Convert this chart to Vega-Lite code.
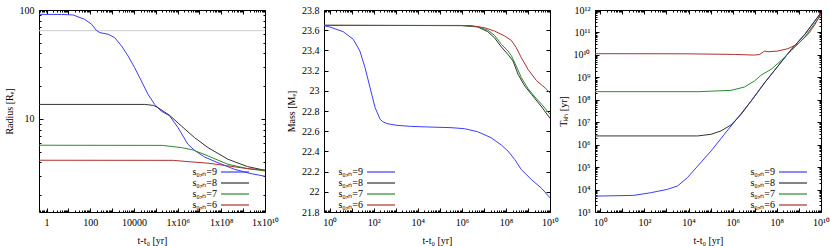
{
  "$schema": "https://vega.github.io/schema/vega-lite/v6.json",
  "padding": {"left": 3, "top": 4, "right": 0, "bottom": 0},
  "config": {
    "font": "Liberation Serif",
    "view": {"stroke": "#000000", "strokeWidth": 1},
    "axis": {
      "grid": false, "domain": false,
      "labelFont": "Liberation Serif", "labelFontSize": 10, "labelColor": "#000000",
      "titleFont": "Liberation Serif", "titleFontSize": 10, "titleFontWeight": "normal", "titleColor": "#000000",
      "tickColor": "#000000", "tickWidth": 1, "labelPadding": 9, "titlePadding": 5,
      "labelFlush": false, "labelOverlap": false, "labelBound": false
    },
    "legend": {
      "symbolType": "M-2.8,0H2.8", "symbolSize": 100, "symbolStrokeWidth": 1.2,
      "labelFont": "Liberation Serif", "labelFontSize": 10, "labelColor": "#000000",
      "labelAlign": "right", "labelOffset": -24, "rowPadding": 0, "padding": 0,
      "labelLimit": 0, "direction": "vertical"
    }
  },
  "datasets": {
    "hline": [{"R": 64.6}],
    "radius": [
      {"s": "s₀,ₙ=9", "t": 0.45, "R": 91.2}, {"s": "s₀,ₙ=9", "t": 5, "R": 91}, {"s": "s₀,ₙ=9", "t": 16.6, "R": 90},
      {"s": "s₀,ₙ=9", "t": 56, "R": 82}, {"s": "s₀,ₙ=9", "t": 115, "R": 74}, {"s": "s₀,ₙ=9", "t": 190, "R": 65},
      {"s": "s₀,ₙ=9", "t": 275, "R": 62}, {"s": "s₀,ₙ=9", "t": 660, "R": 59.9}, {"s": "s₀,ₙ=9", "t": 1320, "R": 55.7},
      {"s": "s₀,ₙ=9", "t": 2700, "R": 46.8}, {"s": "s₀,ₙ=9", "t": 5400, "R": 37.8}, {"s": "s₀,ₙ=9", "t": 10700, "R": 29.6},
      {"s": "s₀,ₙ=9", "t": 21900, "R": 22.3}, {"s": "s₀,ₙ=9", "t": 43600, "R": 16.9}, {"s": "s₀,ₙ=9", "t": 89000, "R": 13.6},
      {"s": "s₀,ₙ=9", "t": 178000, "R": 11.8}, {"s": "s₀,ₙ=9", "t": 427000, "R": 10.7}, {"s": "s₀,ₙ=9", "t": 1050000, "R": 8.3},
      {"s": "s₀,ₙ=9", "t": 2950000, "R": 5.86}, {"s": "s₀,ₙ=9", "t": 5900000, "R": 5.16}, {"s": "s₀,ₙ=9", "t": 17000000, "R": 4.48},
      {"s": "s₀,ₙ=9", "t": 57500000, "R": 4.03}, {"s": "s₀,ₙ=9", "t": 400000000, "R": 3.45}, {"s": "s₀,ₙ=9", "t": 2300000000, "R": 3.15},
      {"s": "s₀,ₙ=9", "t": 10000000000, "R": 2.98},
      {"s": "s₀,ₙ=8", "t": 0.45, "R": 13.6}, {"s": "s₀,ₙ=8", "t": 31000, "R": 13.6}, {"s": "s₀,ₙ=8", "t": 80000, "R": 13.3},
      {"s": "s₀,ₙ=8", "t": 126000, "R": 12.7}, {"s": "s₀,ₙ=8", "t": 427000, "R": 10.8}, {"s": "s₀,ₙ=8", "t": 1480000, "R": 8.63},
      {"s": "s₀,ₙ=8", "t": 5900000, "R": 6.75}, {"s": "s₀,ₙ=8", "t": 24500000, "R": 5.46}, {"s": "s₀,ₙ=8", "t": 200000000, "R": 4.27},
      {"s": "s₀,ₙ=8", "t": 1600000000, "R": 3.65}, {"s": "s₀,ₙ=8", "t": 10000000000, "R": 3.38},
      {"s": "s₀,ₙ=7", "t": 0.45, "R": 5.74}, {"s": "s₀,ₙ=7", "t": 200000, "R": 5.72}, {"s": "s₀,ₙ=7", "t": 1480000, "R": 5.46},
      {"s": "s₀,ₙ=7", "t": 5000000, "R": 5.2}, {"s": "s₀,ₙ=7", "t": 24500000, "R": 4.58}, {"s": "s₀,ₙ=7", "t": 200000000, "R": 3.84},
      {"s": "s₀,ₙ=7", "t": 1600000000, "R": 3.5}, {"s": "s₀,ₙ=7", "t": 10000000000, "R": 3.33},
      {"s": "s₀,ₙ=6", "t": 0.45, "R": 4.18}, {"s": "s₀,ₙ=6", "t": 630000, "R": 4.17}, {"s": "s₀,ₙ=6", "t": 2950000, "R": 4.06},
      {"s": "s₀,ₙ=6", "t": 24500000, "R": 3.93}, {"s": "s₀,ₙ=6", "t": 200000000, "R": 3.71}, {"s": "s₀,ₙ=6", "t": 1600000000, "R": 3.5},
      {"s": "s₀,ₙ=6", "t": 10000000000, "R": 3.4}
    ],
    "mass": [
      {"s": "s₀,ₙ=9", "t": 0.55, "M": 23.645}, {"s": "s₀,ₙ=9", "t": 1, "M": 23.632}, {"s": "s₀,ₙ=9", "t": 4.1, "M": 23.585},
      {"s": "s₀,ₙ=9", "t": 11.7, "M": 23.51}, {"s": "s₀,ₙ=9", "t": 23.4, "M": 23.394}, {"s": "s₀,ₙ=9", "t": 40, "M": 23.23},
      {"s": "s₀,ₙ=9", "t": 68, "M": 23.03}, {"s": "s₀,ₙ=9", "t": 115, "M": 22.833}, {"s": "s₀,ₙ=9", "t": 195, "M": 22.717},
      {"s": "s₀,ₙ=9", "t": 257, "M": 22.694}, {"s": "s₀,ₙ=9", "t": 400, "M": 22.675}, {"s": "s₀,ₙ=9", "t": 1120, "M": 22.658},
      {"s": "s₀,ₙ=9", "t": 4600, "M": 22.648}, {"s": "s₀,ₙ=9", "t": 27000, "M": 22.642}, {"s": "s₀,ₙ=9", "t": 320000, "M": 22.635},
      {"s": "s₀,ₙ=9", "t": 1300000, "M": 22.625}, {"s": "s₀,ₙ=9", "t": 5200000, "M": 22.595}, {"s": "s₀,ₙ=9", "t": 21000000, "M": 22.536},
      {"s": "s₀,ₙ=9", "t": 62000000, "M": 22.463}, {"s": "s₀,ₙ=9", "t": 123000000, "M": 22.404}, {"s": "s₀,ₙ=9", "t": 250000000, "M": 22.32},
      {"s": "s₀,ₙ=9", "t": 500000000, "M": 22.22}, {"s": "s₀,ₙ=9", "t": 1450000000, "M": 22.12}, {"s": "s₀,ₙ=9", "t": 4200000000, "M": 22.034},
      {"s": "s₀,ₙ=9", "t": 10000000000, "M": 21.94},
      {"s": "s₀,ₙ=8", "t": 0.55, "M": 23.648}, {"s": "s₀,ₙ=8", "t": 1000000, "M": 23.646}, {"s": "s₀,ₙ=8", "t": 5200000, "M": 23.632},
      {"s": "s₀,ₙ=8", "t": 15000000, "M": 23.585}, {"s": "s₀,ₙ=8", "t": 30000000, "M": 23.526}, {"s": "s₀,ₙ=8", "t": 62000000, "M": 23.434},
      {"s": "s₀,ₙ=8", "t": 123000000, "M": 23.36}, {"s": "s₀,ₙ=8", "t": 210000000, "M": 23.295}, {"s": "s₀,ₙ=8", "t": 355000000, "M": 23.163},
      {"s": "s₀,ₙ=8", "t": 710000000, "M": 23.048}, {"s": "s₀,ₙ=8", "t": 1450000000, "M": 22.965}, {"s": "s₀,ₙ=8", "t": 4200000000, "M": 22.84},
      {"s": "s₀,ₙ=8", "t": 10000000000, "M": 22.727},
      {"s": "s₀,ₙ=7", "t": 0.55, "M": 23.648}, {"s": "s₀,ₙ=7", "t": 1000000, "M": 23.647}, {"s": "s₀,ₙ=7", "t": 5200000, "M": 23.635},
      {"s": "s₀,ₙ=7", "t": 15000000, "M": 23.6}, {"s": "s₀,ₙ=7", "t": 30000000, "M": 23.55}, {"s": "s₀,ₙ=7", "t": 62000000, "M": 23.46},
      {"s": "s₀,ₙ=7", "t": 123000000, "M": 23.394}, {"s": "s₀,ₙ=7", "t": 174000000, "M": 23.35}, {"s": "s₀,ₙ=7", "t": 295000000, "M": 23.245},
      {"s": "s₀,ₙ=7", "t": 500000000, "M": 23.13}, {"s": "s₀,ₙ=7", "t": 1020000000, "M": 23.02}, {"s": "s₀,ₙ=7", "t": 2040000000, "M": 22.94},
      {"s": "s₀,ₙ=7", "t": 4200000000, "M": 22.866}, {"s": "s₀,ₙ=7", "t": 10000000000, "M": 22.767},
      {"s": "s₀,ₙ=6", "t": 0.55, "M": 23.648}, {"s": "s₀,ₙ=6", "t": 2600000, "M": 23.645}, {"s": "s₀,ₙ=6", "t": 10500000, "M": 23.625},
      {"s": "s₀,ₙ=6", "t": 30000000, "M": 23.592}, {"s": "s₀,ₙ=6", "t": 87000000, "M": 23.543}, {"s": "s₀,ₙ=6", "t": 174000000, "M": 23.5},
      {"s": "s₀,ₙ=6", "t": 295000000, "M": 23.427}, {"s": "s₀,ₙ=6", "t": 500000000, "M": 23.328}, {"s": "s₀,ₙ=6", "t": 1020000000, "M": 23.21},
      {"s": "s₀,ₙ=6", "t": 2450000000, "M": 23.1}, {"s": "s₀,ₙ=6", "t": 5900000000, "M": 23.03}, {"s": "s₀,ₙ=6", "t": 10000000000, "M": 22.98}
    ],
    "tkh": [
      {"s": "s₀,ₙ=9", "t": 0.58, "T": 5100}, {"s": "s₀,ₙ=9", "t": 33, "T": 5500}, {"s": "s₀,ₙ=9", "t": 190, "T": 7200},
      {"s": "s₀,ₙ=9", "t": 1100, "T": 10200}, {"s": "s₀,ₙ=9", "t": 3200, "T": 14500}, {"s": "s₀,ₙ=9", "t": 8900, "T": 34000},
      {"s": "s₀,ₙ=9", "t": 26000, "T": 112000}, {"s": "s₀,ₙ=9", "t": 105000, "T": 525000}, {"s": "s₀,ₙ=9", "t": 420000, "T": 2900000},
      {"s": "s₀,ₙ=9", "t": 1700000, "T": 15800000}, {"s": "s₀,ₙ=9", "t": 6900000, "T": 89000000}, {"s": "s₀,ₙ=9", "t": 28000000, "T": 575000000},
      {"s": "s₀,ₙ=9", "t": 112000000, "T": 3160000000}, {"s": "s₀,ₙ=9", "t": 460000000, "T": 17800000000}, {"s": "s₀,ₙ=9", "t": 1860000000, "T": 83000000000},
      {"s": "s₀,ₙ=9", "t": 10000000000, "T": 760000000000},
      {"s": "s₀,ₙ=8", "t": 0.58, "T": 2450000}, {"s": "s₀,ₙ=8", "t": 26000, "T": 2450000}, {"s": "s₀,ₙ=8", "t": 105000, "T": 2900000},
      {"s": "s₀,ₙ=8", "t": 295000, "T": 4100000}, {"s": "s₀,ₙ=8", "t": 850000, "T": 7600000}, {"s": "s₀,ₙ=8", "t": 2400000, "T": 22400000},
      {"s": "s₀,ₙ=8", "t": 6900000, "T": 89000000}, {"s": "s₀,ₙ=8", "t": 28000000, "T": 575000000}, {"s": "s₀,ₙ=8", "t": 112000000, "T": 3160000000},
      {"s": "s₀,ₙ=8", "t": 460000000, "T": 17800000000}, {"s": "s₀,ₙ=8", "t": 1860000000, "T": 83000000000}, {"s": "s₀,ₙ=8", "t": 10000000000, "T": 760000000000},
      {"s": "s₀,ₙ=7", "t": 0.58, "T": 230000000}, {"s": "s₀,ₙ=7", "t": 30000, "T": 230000000}, {"s": "s₀,ₙ=7", "t": 850000, "T": 263000000},
      {"s": "s₀,ₙ=7", "t": 3400000, "T": 370000000}, {"s": "s₀,ₙ=7", "t": 9800000, "T": 690000000}, {"s": "s₀,ₙ=7", "t": 19500000, "T": 1260000000},
      {"s": "s₀,ₙ=7", "t": 56000000, "T": 2300000000}, {"s": "s₀,ₙ=7", "t": 160000000, "T": 5750000000}, {"s": "s₀,ₙ=7", "t": 460000000, "T": 15800000000},
      {"s": "s₀,ₙ=7", "t": 1860000000, "T": 63000000000}, {"s": "s₀,ₙ=7", "t": 10000000000, "T": 600000000000},
      {"s": "s₀,ₙ=6", "t": 0.58, "T": 11300000000}, {"s": "s₀,ₙ=6", "t": 6300, "T": 11200000000}, {"s": "s₀,ₙ=6", "t": 1200000, "T": 10500000000},
      {"s": "s₀,ₙ=6", "t": 9800000, "T": 9800000000}, {"s": "s₀,ₙ=6", "t": 16600000, "T": 10500000000}, {"s": "s₀,ₙ=6", "t": 28000000, "T": 14800000000},
      {"s": "s₀,ₙ=6", "t": 40000000, "T": 13800000000}, {"s": "s₀,ₙ=6", "t": 110000000, "T": 14800000000}, {"s": "s₀,ₙ=6", "t": 320000000, "T": 19000000000},
      {"s": "s₀,ₙ=6", "t": 930000000, "T": 31600000000}, {"s": "s₀,ₙ=6", "t": 2600000000, "T": 83000000000}, {"s": "s₀,ₙ=6", "t": 5400000000, "T": 230000000000},
      {"s": "s₀,ₙ=6", "t": 10000000000, "T": 690000000000}
    ]
  },
  "spacing": 59,
  "bounds": "flush",
  "resolve": {"scale": {"x": "independent", "y": "independent"}, "legend": {"color": "independent"}},
  "hconcat": [
    {
      "width": 226, "height": 202,
      "resolve": {"axis": {"x": "independent", "y": "independent"}},
      "layer": [
        {
          "data": {"name": "hline"},
          "mark": {"type": "rule", "color": "#cccccc", "strokeWidth": 1},
          "encoding": {"y": {"field": "R", "type": "quantitative", "axis": null}}
        },
        {
          "data": {"name": "radius"},
          "mark": {"type": "line", "strokeWidth": 1, "clip": true},
          "encoding": {
            "x": {"field": "t", "type": "quantitative", "scale": {"type": "log", "domain": [0.45, 10000000000], "nice": false},
              "axis": {"title": "t-t₀ [yr]", "titlePadding": 6,
                "values": [0.5,0.6,0.7,0.8,0.9,1,2,3,4,5,6,7,8,9,10,20,30,40,50,60,70,80,90,100,200,300,400,500,600,700,800,900,1000,2000,3000,4000,5000,6000,7000,8000,9000,1e4,2e4,3e4,4e4,5e4,6e4,7e4,8e4,9e4,1e5,2e5,3e5,4e5,5e5,6e5,7e5,8e5,9e5,1e6,2e6,3e6,4e6,5e6,6e6,7e6,8e6,9e6,1e7,2e7,3e7,4e7,5e7,6e7,7e7,8e7,9e7,1e8,2e8,3e8,4e8,5e8,6e8,7e8,8e8,9e8,1e9,2e9,3e9,4e9,5e9,6e9,7e9,8e9,9e9,1e10],
                "tickSize": {"condition": {"test": "abs(log(datum.value)/LN10 - round(log(datum.value)/LN10)) > 0.001", "value": -2}, "value": -4},
                "labelExpr": "(abs(log(datum.value)/LN10 - round(log(datum.value)/LN10)) > 0.001 || round(log(datum.value)/LN10) % 2 != 0) ? '' : datum.value < 100000 ? format(datum.value, 'd') : datum.value == 1000000 ? '1x10⁶' : datum.value == 100000000 ? '1x10⁸' : '1x10¹⁰'"}},
            "y": {"field": "R", "type": "quantitative", "scale": {"type": "log", "domain": [1.4, 100], "nice": false},
              "axis": {"title": "Radius [Rₑ]",
                "values": [2,3,4,5,6,7,8,9,10,20,30,40,50,60,70,80,90,100],
                "tickSize": {"condition": {"test": "abs(log(datum.value)/LN10 - round(log(datum.value)/LN10)) > 0.001", "value": -2}, "value": -4},
                "labelExpr": "abs(log(datum.value)/LN10 - round(log(datum.value)/LN10)) > 0.001 ? '' : format(datum.value, 'd')"}},
            "color": {"field": "s", "type": "nominal",
              "scale": {"domain": ["s₀,ₙ=9", "s₀,ₙ=8", "s₀,ₙ=7", "s₀,ₙ=6"], "range": ["#3c3cff", "#333333", "#2e8b2e", "#b03030"]},
              "legend": {"title": null, "orient": "none", "legendX": 190, "legendY": 156}}
          }
        },
        {
          "data": {"name": "radius"},
          "mark": {"type": "point", "opacity": 0},
          "encoding": {
            "x": {"field": "t", "type": "quantitative", "axis": {"orient": "top", "labels": false, "title": null,
              "values": [0.5,0.6,0.7,0.8,0.9,1,2,3,4,5,6,7,8,9,10,20,30,40,50,60,70,80,90,100,200,300,400,500,600,700,800,900,1000,2000,3000,4000,5000,6000,7000,8000,9000,1e4,2e4,3e4,4e4,5e4,6e4,7e4,8e4,9e4,1e5,2e5,3e5,4e5,5e5,6e5,7e5,8e5,9e5,1e6,2e6,3e6,4e6,5e6,6e6,7e6,8e6,9e6,1e7,2e7,3e7,4e7,5e7,6e7,7e7,8e7,9e7,1e8,2e8,3e8,4e8,5e8,6e8,7e8,8e8,9e8,1e9,2e9,3e9,4e9,5e9,6e9,7e9,8e9,9e9,1e10],
              "tickSize": {"condition": {"test": "abs(log(datum.value)/LN10 - round(log(datum.value)/LN10)) > 0.001", "value": -2}, "value": -4}}},
            "y": {"field": "R", "type": "quantitative", "axis": {"orient": "right", "labels": false, "title": null,
              "values": [2,3,4,5,6,7,8,9,10,20,30,40,50,60,70,80,90,100],
              "tickSize": {"condition": {"test": "abs(log(datum.value)/LN10 - round(log(datum.value)/LN10)) > 0.001", "value": -2}, "value": -4}}}
          }
        }
      ]
    },
    {
      "spacing": 45,
      "bounds": "flush",
      "resolve": {"scale": {"x": "independent", "y": "independent"}, "legend": {"color": "independent"}},
      "hconcat": [
        {
          "width": 226, "height": 202,
          "resolve": {"axis": {"x": "independent", "y": "independent"}},
          "layer": [
            {
              "data": {"name": "mass"},
              "mark": {"type": "line", "strokeWidth": 1, "clip": true},
              "encoding": {
                "x": {"field": "t", "type": "quantitative", "scale": {"type": "log", "domain": [0.55, 10000000000], "nice": false},
                  "axis": {"title": "t-t₀ [yr]", "titlePadding": 6,
                    "values": [0.6,0.7,0.8,0.9,1,2,3,4,5,6,7,8,9,10,20,30,40,50,60,70,80,90,100,200,300,400,500,600,700,800,900,1000,2000,3000,4000,5000,6000,7000,8000,9000,1e4,2e4,3e4,4e4,5e4,6e4,7e4,8e4,9e4,1e5,2e5,3e5,4e5,5e5,6e5,7e5,8e5,9e5,1e6,2e6,3e6,4e6,5e6,6e6,7e6,8e6,9e6,1e7,2e7,3e7,4e7,5e7,6e7,7e7,8e7,9e7,1e8,2e8,3e8,4e8,5e8,6e8,7e8,8e8,9e8,1e9,2e9,3e9,4e9,5e9,6e9,7e9,8e9,9e9,1e10],
                    "tickSize": {"condition": {"test": "abs(log(datum.value)/LN10 - round(log(datum.value)/LN10)) > 0.001", "value": -2}, "value": -4},
                    "labelExpr": "(abs(log(datum.value)/LN10 - round(log(datum.value)/LN10)) > 0.001 || round(log(datum.value)/LN10) % 2 != 0) ? '' : '10' + (round(log(datum.value)/LN10) == 10 ? '¹⁰' : substring('⁰¹²³⁴⁵⁶⁷⁸⁹', round(log(datum.value)/LN10), round(log(datum.value)/LN10) + 1))"}},
                "y": {"field": "M", "type": "quantitative", "scale": {"domain": [21.8, 23.8], "nice": false, "zero": false},
                  "axis": {"title": "Mass [Mₑ]", "values": [21.8,22,22.2,22.4,22.6,22.8,23,23.2,23.4,23.6,23.8], "format": "~g", "tickSize": -4}},
                "color": {"field": "s", "type": "nominal",
                  "scale": {"domain": ["s₀,ₙ=9", "s₀,ₙ=8", "s₀,ₙ=7", "s₀,ₙ=6"], "range": ["#3c3cff", "#333333", "#2e8b2e", "#b03030"]},
                  "legend": {"title": null, "orient": "none", "legendX": 51, "legendY": 156}}
              }
            },
            {
              "data": {"name": "mass"},
              "mark": {"type": "point", "opacity": 0},
              "encoding": {
                "x": {"field": "t", "type": "quantitative", "axis": {"orient": "top", "labels": false, "title": null,
                  "values": [0.6,0.7,0.8,0.9,1,2,3,4,5,6,7,8,9,10,20,30,40,50,60,70,80,90,100,200,300,400,500,600,700,800,900,1000,2000,3000,4000,5000,6000,7000,8000,9000,1e4,2e4,3e4,4e4,5e4,6e4,7e4,8e4,9e4,1e5,2e5,3e5,4e5,5e5,6e5,7e5,8e5,9e5,1e6,2e6,3e6,4e6,5e6,6e6,7e6,8e6,9e6,1e7,2e7,3e7,4e7,5e7,6e7,7e7,8e7,9e7,1e8,2e8,3e8,4e8,5e8,6e8,7e8,8e8,9e8,1e9,2e9,3e9,4e9,5e9,6e9,7e9,8e9,9e9,1e10],
                  "tickSize": {"condition": {"test": "abs(log(datum.value)/LN10 - round(log(datum.value)/LN10)) > 0.001", "value": -2}, "value": -4}}},
                "y": {"field": "M", "type": "quantitative", "axis": {"orient": "right", "labels": false, "title": null,
                  "values": [21.8,22,22.2,22.4,22.6,22.8,23,23.2,23.4,23.6,23.8], "tickSize": -4}}
              }
            }
          ]
        },
        {
          "width": 226, "height": 202,
          "resolve": {"axis": {"x": "independent", "y": "independent"}},
          "layer": [
            {
              "data": {"name": "tkh"},
              "mark": {"type": "line", "strokeWidth": 1, "clip": true},
              "encoding": {
                "x": {"field": "t", "type": "quantitative", "scale": {"type": "log", "domain": [0.58, 10000000000], "nice": false},
                  "axis": {"title": "t-t₀ [yr]", "titlePadding": 6,
                    "values": [0.6,0.7,0.8,0.9,1,2,3,4,5,6,7,8,9,10,20,30,40,50,60,70,80,90,100,200,300,400,500,600,700,800,900,1000,2000,3000,4000,5000,6000,7000,8000,9000,1e4,2e4,3e4,4e4,5e4,6e4,7e4,8e4,9e4,1e5,2e5,3e5,4e5,5e5,6e5,7e5,8e5,9e5,1e6,2e6,3e6,4e6,5e6,6e6,7e6,8e6,9e6,1e7,2e7,3e7,4e7,5e7,6e7,7e7,8e7,9e7,1e8,2e8,3e8,4e8,5e8,6e8,7e8,8e8,9e8,1e9,2e9,3e9,4e9,5e9,6e9,7e9,8e9,9e9,1e10],
                    "tickSize": {"condition": {"test": "abs(log(datum.value)/LN10 - round(log(datum.value)/LN10)) > 0.001", "value": -2}, "value": -4},
                    "labelExpr": "(abs(log(datum.value)/LN10 - round(log(datum.value)/LN10)) > 0.001 || round(log(datum.value)/LN10) % 2 != 0) ? '' : '10' + (round(log(datum.value)/LN10) == 10 ? '¹⁰' : substring('⁰¹²³⁴⁵⁶⁷⁸⁹', round(log(datum.value)/LN10), round(log(datum.value)/LN10) + 1))"}},
                "y": {"field": "T", "type": "quantitative", "scale": {"type": "log", "domain": [1000, 1000000000000], "nice": false},
                  "axis": {"title": "Tₖₕ [yr]",
                    "values": [1e3,2e3,3e3,4e3,5e3,6e3,7e3,8e3,9e3,1e4,2e4,3e4,4e4,5e4,6e4,7e4,8e4,9e4,1e5,2e5,3e5,4e5,5e5,6e5,7e5,8e5,9e5,1e6,2e6,3e6,4e6,5e6,6e6,7e6,8e6,9e6,1e7,2e7,3e7,4e7,5e7,6e7,7e7,8e7,9e7,1e8,2e8,3e8,4e8,5e8,6e8,7e8,8e8,9e8,1e9,2e9,3e9,4e9,5e9,6e9,7e9,8e9,9e9,1e10,2e10,3e10,4e10,5e10,6e10,7e10,8e10,9e10,1e11,2e11,3e11,4e11,5e11,6e11,7e11,8e11,9e11,1e12],
                    "tickSize": {"condition": {"test": "abs(log(datum.value)/LN10 - round(log(datum.value)/LN10)) > 0.001", "value": -2}, "value": -4},
                    "labelExpr": "abs(log(datum.value)/LN10 - round(log(datum.value)/LN10)) > 0.001 ? '' : '10' + (round(log(datum.value)/LN10) >= 10 ? '¹' + substring('⁰¹²³⁴⁵⁶⁷⁸⁹', round(log(datum.value)/LN10) - 10, round(log(datum.value)/LN10) - 9) : substring('⁰¹²³⁴⁵⁶⁷⁸⁹', round(log(datum.value)/LN10), round(log(datum.value)/LN10) + 1))"}},
                "color": {"field": "s", "type": "nominal",
                  "scale": {"domain": ["s₀,ₙ=9", "s₀,ₙ=8", "s₀,ₙ=7", "s₀,ₙ=6"], "range": ["#3c3cff", "#333333", "#2e8b2e", "#b03030"]},
                  "legend": {"title": null, "orient": "none", "legendX": 192, "legendY": 156}}
              }
            },
            {
              "data": {"name": "tkh"},
              "mark": {"type": "point", "opacity": 0},
              "encoding": {
                "x": {"field": "t", "type": "quantitative", "axis": {"orient": "top", "labels": false, "title": null,
                  "values": [0.6,0.7,0.8,0.9,1,2,3,4,5,6,7,8,9,10,20,30,40,50,60,70,80,90,100,200,300,400,500,600,700,800,900,1000,2000,3000,4000,5000,6000,7000,8000,9000,1e4,2e4,3e4,4e4,5e4,6e4,7e4,8e4,9e4,1e5,2e5,3e5,4e5,5e5,6e5,7e5,8e5,9e5,1e6,2e6,3e6,4e6,5e6,6e6,7e6,8e6,9e6,1e7,2e7,3e7,4e7,5e7,6e7,7e7,8e7,9e7,1e8,2e8,3e8,4e8,5e8,6e8,7e8,8e8,9e8,1e9,2e9,3e9,4e9,5e9,6e9,7e9,8e9,9e9,1e10],
                  "tickSize": {"condition": {"test": "abs(log(datum.value)/LN10 - round(log(datum.value)/LN10)) > 0.001", "value": -2}, "value": -4}}},
                "y": {"field": "T", "type": "quantitative", "axis": {"orient": "right", "labels": false, "title": null,
                  "values": [1e3,2e3,3e3,4e3,5e3,6e3,7e3,8e3,9e3,1e4,2e4,3e4,4e4,5e4,6e4,7e4,8e4,9e4,1e5,2e5,3e5,4e5,5e5,6e5,7e5,8e5,9e5,1e6,2e6,3e6,4e6,5e6,6e6,7e6,8e6,9e6,1e7,2e7,3e7,4e7,5e7,6e7,7e7,8e7,9e7,1e8,2e8,3e8,4e8,5e8,6e8,7e8,8e8,9e8,1e9,2e9,3e9,4e9,5e9,6e9,7e9,8e9,9e9,1e10,2e10,3e10,4e10,5e10,6e10,7e10,8e10,9e10,1e11,2e11,3e11,4e11,5e11,6e11,7e11,8e11,9e11,1e12],
                  "tickSize": {"condition": {"test": "abs(log(datum.value)/LN10 - round(log(datum.value)/LN10)) > 0.001", "value": -2}, "value": -4}}}
              }
            }
          ]
        }
      ]
    }
  ]
}
